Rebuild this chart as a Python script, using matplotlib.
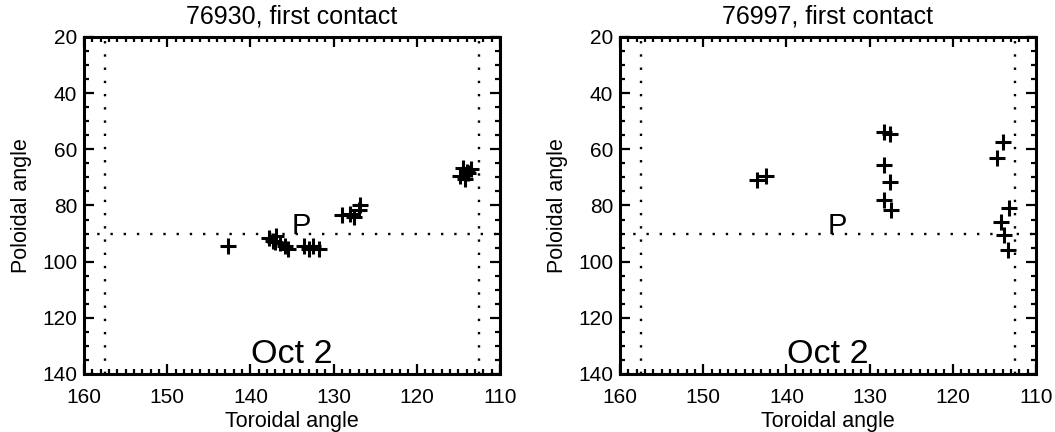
import matplotlib
matplotlib.use("Agg")
import matplotlib.pyplot as plt
from matplotlib.ticker import MultipleLocator

plt.rcParams['font.family'] = ['Liberation Sans', 'DejaVu Sans']

titles = ["76930, first contact", "76997, first contact"]

tor1 = [142.7, 137.8, 137.3, 136.9, 136.5, 135.8, 135.5, 137.0,
        133.5, 133.0, 132.5, 131.8,
        129.0, 128.0, 127.5, 127.0, 126.8,
        114.5, 114.0, 114.8, 113.8, 114.2, 113.5]
pol1 = [94.5, 91.5, 92.5, 91.0, 93.5, 94.5, 95.5, 93.0,
        94.5, 95.5, 94.5, 95.5,
        83.5, 83.0, 84.0, 81.5, 80.0,
        66.5, 68.0, 69.5, 68.5, 70.5, 67.0]

tor2 = [143.5, 142.5, 128.3, 127.5, 128.3, 127.5, 128.3, 127.4,
        114.0, 114.7, 113.3, 114.2, 113.9, 113.4]
pol2 = [71.0, 69.5, 54.0, 54.5, 65.5, 71.5, 78.0, 81.5,
        57.5, 63.0, 81.0, 86.0, 90.5, 96.0]

tor_data = [tor1, tor2]
pol_data = [pol1, pol2]

x_limits = (160, 110)
y_limits = (140, 20)
vlines = [157.5, 112.5]
hline = 90
p_pos = (135, 90)
date_label = "Oct 2"
date_pos = (135, 136)

fig = plt.figure(figsize=(10.55, 4.32), dpi=100)
lefts = [84 / 1055, 620 / 1055]
for i in range(2):
    ax = fig.add_axes([lefts[i], 58 / 432, 416 / 1055, 337 / 432])
    ax.set_xlim(*x_limits)
    ax.set_ylim(*y_limits)
    for v in vlines:
        ax.axvline(v, color='black', linestyle=(0, (1, 4.6)), linewidth=1.7)
    ax.axhline(hline, color='black', linestyle=(0, (1, 4.6)), linewidth=1.7)
    ax.plot(tor_data[i], pol_data[i], linestyle='none', marker='+',
            markersize=11.5, markeredgewidth=2.2, color='black')
    ax.text(p_pos[0], p_pos[1], "P", fontsize=21, ha='left', va='baseline')
    ax.text(date_pos[0], date_pos[1], date_label, fontsize=24.5, ha='center', va='baseline')
    ax.set_title(titles[i], fontsize=18, pad=10)
    ax.set_xlabel("Toroidal angle", fontsize=15.5, labelpad=3)
    ax.set_ylabel("Poloidal angle", fontsize=15.5, labelpad=7)
    ax.xaxis.set_major_locator(MultipleLocator(10))
    ax.xaxis.set_minor_locator(MultipleLocator(1))
    ax.yaxis.set_major_locator(MultipleLocator(20))
    ax.yaxis.set_minor_locator(MultipleLocator(5))
    ax.tick_params(which='both', direction='in', top=True, right=True,
                   colors='black', labelsize=15, width=1.6)
    ax.tick_params(which='major', length=7)
    ax.tick_params(which='minor', length=3.5)
    ax.tick_params(axis='x', pad=10)
    ax.tick_params(axis='y', pad=5)
    for s in ax.spines.values():
        s.set_linewidth(2.2)

fig.savefig("out.png", dpi=100)
